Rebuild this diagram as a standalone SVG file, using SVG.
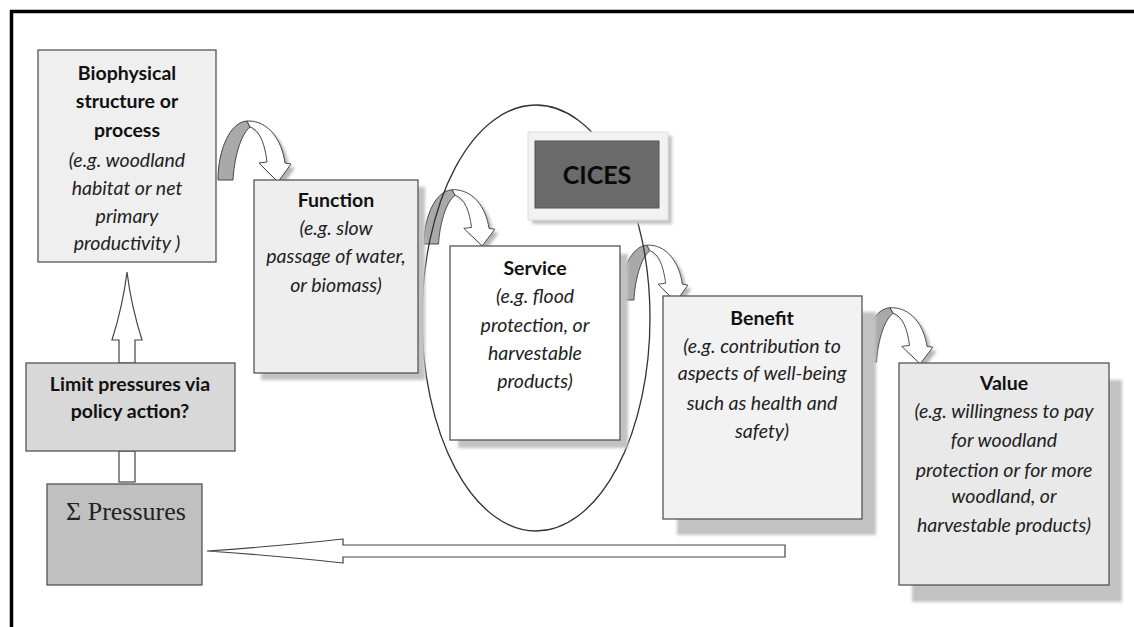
<svg xmlns="http://www.w3.org/2000/svg" width="1134" height="627" viewBox="0 0 1134 627">
  <defs>
    <filter id="soft" x="-20%" y="-20%" width="140%" height="140%">
      <feGaussianBlur stdDeviation="1.6"/>
    </filter>
    <!-- curved "bend" arrow: grey back band plus white front ribbon with head -->
    <path id="bend-back" d="M0,0 C0,-30 12,-58 29,-59 L32,-53 C22,-45 16,-20 15,0 Z"/>
    <path id="bend-front" d="M29,-59 C50,-60 64,-40 67,-17 L73,-16 L60,2 L41,-17 L49,-18 C47,-35 42,-50 32,-53 Z"/>
  </defs>
  <style>
    .box{stroke:#555;stroke-width:1.3}
    .shadow{fill:#c2c2c2;filter:url(#soft)}
    .t{font-family:Lato,"Liberation Sans",sans-serif;font-size:19.5px;fill:#222;text-anchor:middle}
    .b{font-weight:bold;fill:#111}
    .i{font-style:italic}
    .bback{fill:#a9a9a9;stroke:#444;stroke-width:1}
    .bfront{fill:#fff;stroke:#444;stroke-width:1}
    .bshadow{fill:#b5b5b5;filter:url(#soft)}
    .block{fill:#fff;stroke:#444;stroke-width:1.2}
    .frame{stroke:#000;stroke-width:3.5}
  </style>

  <rect width="1134" height="627" fill="#fff"/>
  <line class="frame" x1="10" y1="11.5" x2="1134" y2="11.5"/>
  <line class="frame" x1="11.5" y1="10" x2="11.5" y2="627"/>

  <g id="connectors">
    <g transform="translate(218,180)">
      <use href="#bend-front" class="bshadow" transform="translate(4,4)"/>
      <use href="#bend-back" class="bback"/>
      <use href="#bend-front" class="bfront"/>
    </g>
    <g transform="translate(424,244) scale(0.97,0.92)">
      <use href="#bend-front" class="bshadow" transform="translate(4,4)"/>
      <use href="#bend-back" class="bback"/>
      <use href="#bend-front" class="bfront"/>
    </g>
    <g transform="translate(620,300) scale(0.93,0.93)">
      <use href="#bend-front" class="bshadow" transform="translate(4,4)"/>
      <use href="#bend-back" class="bback"/>
      <use href="#bend-front" class="bfront"/>
    </g>
    <g transform="translate(862,362) scale(0.97,0.92)">
      <use href="#bend-front" class="bshadow" transform="translate(4,4)"/>
      <use href="#bend-back" class="bback"/>
      <use href="#bend-front" class="bfront"/>
    </g>
    <path class="block" d="M119,363 L119,340 L112,340 Q123,305 127,272 Q131,305 142,340 L135,340 L135,363 Z"/>
    <rect class="block" x="119" y="451" width="16" height="31"/>
    <path class="block" d="M785,545 L343,545 L343,539 Q280,546 207,551 Q280,556 343,563 L343,557 L785,557 Z"/>
  </g>

  <g id="cices-scope">
    <ellipse cx="536" cy="318" rx="114" ry="213" fill="none" stroke="#333" stroke-width="1.3"/>
  </g>

  <g id="node-biophysical">
    <rect class="box" x="38" y="50" width="178" height="212" fill="#efefef"/>
    <text class="t b" x="127" y="80">Biophysical</text>
    <text class="t b" x="127" y="108">structure or</text>
    <text class="t b" x="127" y="137">process</text>
    <text class="t i" x="127" y="167">(e.g. woodland</text>
    <text class="t i" x="127" y="195">habitat or net</text>
    <text class="t i" x="127" y="223">primary</text>
    <text class="t i" x="127" y="250">productivity )</text>
  </g>

  <g id="node-function">
    <rect class="shadow" x="261" y="187" width="164" height="193"/>
    <rect class="box" x="254" y="180" width="164" height="193" fill="#eeeeee"/>
    <text class="t b" x="336" y="207">Function</text>
    <text class="t i" x="336" y="235">(e.g. slow</text>
    <text class="t i" x="336" y="263">passage of water,</text>
    <text class="t i" x="336" y="292">or biomass)</text>
  </g>

  <g id="node-cices">
    <rect class="shadow" x="532" y="136" width="140" height="88"/>
    <rect x="528" y="132" width="140" height="88" fill="#f2f2f2" stroke="#ddd" stroke-width="1"/>
    <rect x="535" y="141" width="124" height="67" fill="#6b6b6b" stroke="#555" stroke-width="1"/>
    <text class="t b" x="597" y="184" style="font-size:25px;fill:#0a0a0a">CICES</text>
  </g>

  <g id="node-service">
    <rect class="shadow" x="458" y="254" width="170" height="194"/>
    <rect class="box" x="450" y="246" width="170" height="194" fill="#ffffff"/>
    <text class="t b" x="535" y="275">Service</text>
    <text class="t i" x="535" y="303">(e.g. flood</text>
    <text class="t i" x="535" y="332">protection, or</text>
    <text class="t i" x="535" y="360">harvestable</text>
    <text class="t i" x="535" y="388">products)</text>
  </g>

  <g id="node-benefit">
    <rect class="shadow" x="677" y="312" width="199" height="223"/>
    <rect class="box" x="663" y="296" width="199" height="223" fill="#f2f2f2"/>
    <text class="t b" x="762" y="325">Benefit</text>
    <text class="t i" x="762" y="353">(e.g. contribution to</text>
    <text class="t i" x="762" y="380">aspects of well-being</text>
    <text class="t i" x="762" y="410">such as health and</text>
    <text class="t i" x="762" y="438">safety)</text>
  </g>

  <g id="node-value">
    <rect class="shadow" x="912" y="380" width="210" height="222"/>
    <rect class="box" x="899" y="363" width="210" height="222" fill="#e9e9e9"/>
    <text class="t b" x="1004" y="390">Value</text>
    <text class="t i" x="1004" y="418">(e.g. willingness  to pay</text>
    <text class="t i" x="1004" y="447">for woodland</text>
    <text class="t i" x="1004" y="477">protection or for more</text>
    <text class="t i" x="1004" y="503">woodland, or</text>
    <text class="t i" x="1004" y="532">harvestable products)</text>
  </g>

  <g id="node-limit">
    <rect class="box" x="26" y="363" width="209" height="88" fill="#d8d8d8"/>
    <text class="t b" x="130" y="391">Limit pressures via</text>
    <text class="t b" x="130" y="418">policy action?</text>
  </g>

  <g id="node-pressures">
    <rect class="box" x="47" y="484" width="155" height="101" fill="#c0c0c0"/>
    <text x="126" y="520" text-anchor="middle" font-family="'Liberation Serif',serif" font-size="26" fill="#222">Σ Pressures</text>
  </g>
</svg>
